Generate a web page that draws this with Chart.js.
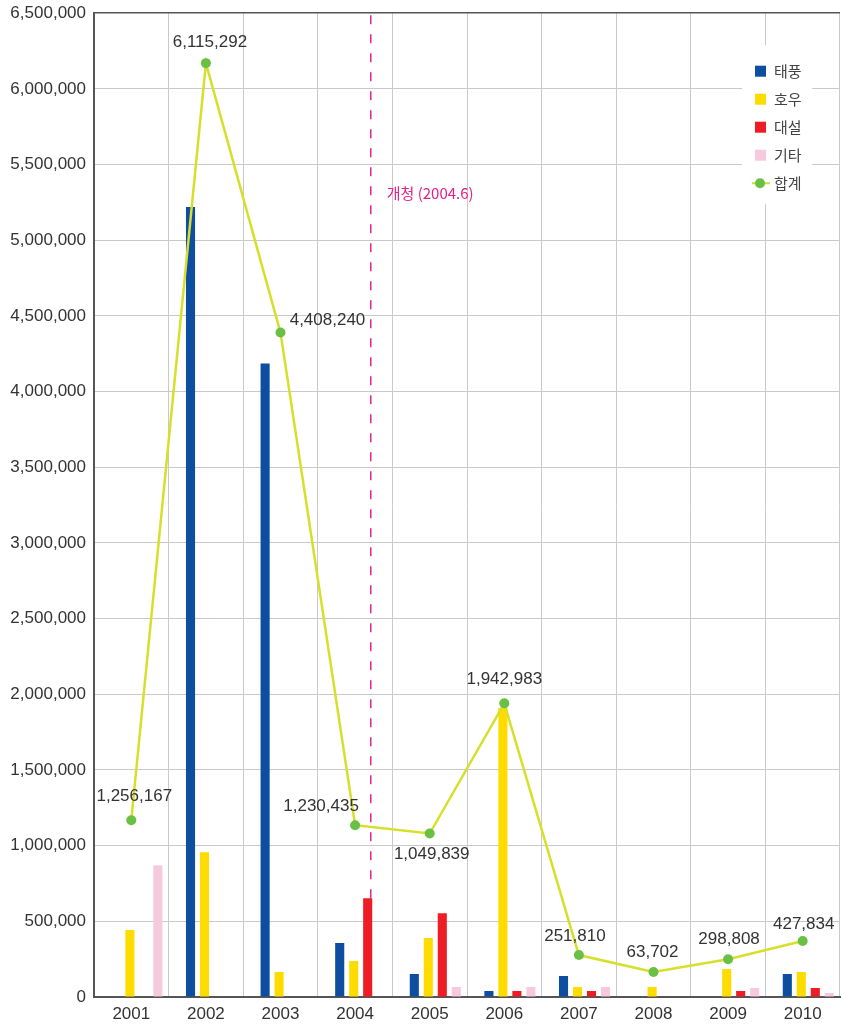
<!DOCTYPE html>
<html lang="ko">
<head>
<meta charset="utf-8">
<script src="https://cdn.jsdelivr.net/npm/chart.js@4/dist/chart.umd.min.js"></script>
<style>
  html, body { margin: 0; padding: 0; background: #fff; overflow: hidden; }
  #wrap { width: 842px; height: 1027px; overflow: hidden; }
  #chart { display: block; margin-top: -5px; }
</style>
</head>
<body>
<div id="wrap"><canvas id="chart" width="845" height="1032"></canvas></div>
<script>
// 데이터
const years = ['2001', '2002', '2003', '2004', '2005', '2006', '2007', '2008', '2009', '2010'];
const typhoon = [0, 5220000, 4185000, 356000, 152000, 40000, 139000, 0, 0, 152000];
const heavyRain = [442000, 957000, 165000, 238000, 390000, 1910000, 66000, 66000, 185000, 165000];
const heavySnow = [0, 0, 0, 653000, 554000, 40000, 40000, 0, 40000, 60000];
const etc = [870000, 0, 0, 0, 66000, 66000, 66000, 0, 60000, 26000];
const totals = [1168000, 6170000, 4390000, 1135000, 1080000, 1940000, 277000, 165000, 250000, 370000];
const totalLabels = ['1,256,167', '6,115,292', '4,408,240', '1,230,435', '1,049,839', '1,942,983', '251,810', '63,702', '298,808', '427,834'];
const yTicks = [0, 6500000, 500000]; // min, max, step

const markerText = '개청 (2004.6)';

// 라벨 위치 (점 기준 오프셋)
const labelOffsets = [[3, -24], [4, -21], [47, -12], [-34, -19], [2, 21], [0, -24], [-4, -19], [-1, -20], [1, -20], [1, -17]];

const FONT = '"Liberation Sans", Arial, sans-serif';
const KFONT = '"Noto Sans CJK KR", "Noto Sans", sans-serif';
const AXIS = '#555555';
const GRID = '#c9c9c9';

const fmt = n => n.toLocaleString('en-US');

const overlayPlugin = {
  id: 'overlay',
  afterDatasetsUpdate(chart) {
    // 막대 묶음을 약간 오른쪽으로
    const x = chart.scales.x;
    const shift = (x.getPixelForValue(1) - x.getPixelForValue(0)) * 0.075;
    for (let i = 0; i < 4; i++) {
      chart.getDatasetMeta(i).data.forEach(el => { el.x += shift; });
    }
  },
  beforeDatasetsDraw(chart) {
    const { ctx, chartArea, scales: { x, y } } = chart;
    const catW = x.getPixelForValue(1) - x.getPixelForValue(0);
    const mx = x.getPixelForValue(3) + catW * 0.21;
    ctx.save();
    ctx.strokeStyle = '#e4248f';
    ctx.lineWidth = 1.5;
    ctx.setLineDash([9, 10]);
    ctx.beginPath();
    ctx.moveTo(mx, chartArea.top + 2);
    ctx.lineTo(mx, chartArea.bottom);
    ctx.stroke();
    ctx.setLineDash([]);
    ctx.fillStyle = '#e6208c';
    ctx.font = '15px ' + KFONT;
    ctx.textBaseline = 'middle';
    ctx.textAlign = 'left';
    ctx.fillText(markerText, mx + 16, y.getPixelForValue(5310000));
    ctx.restore();
  },
  afterDraw(chart) {
    const { ctx, chartArea } = chart;
    ctx.save();
    // 합계 라벨
    const meta = chart.getDatasetMeta(4);
    ctx.fillStyle = '#333';
    ctx.font = '17px ' + FONT;
    ctx.textAlign = 'center';
    ctx.textBaseline = 'middle';
    meta.data.forEach((pt, i) => {
      const [dx, dy] = labelOffsets[i];
      ctx.fillText(totalLabels[i], pt.x + dx, pt.y + dy);
    });

    // 범례
    const bx = chartArea.right - 98, by = chartArea.top + 32;
    ctx.fillStyle = '#fff';
    ctx.fillRect(bx, by, 70, 159);
    ctx.font = '15px ' + KFONT;
    ctx.textAlign = 'left';
    chart.data.datasets.forEach((ds, i) => {
      const cy = by + 26 + i * 28;
      if (ds.type === 'line') {
        ctx.strokeStyle = ds.borderColor;
        ctx.lineWidth = 2;
        ctx.beginPath();
        ctx.moveTo(bx + 10, cy);
        ctx.lineTo(bx + 28, cy);
        ctx.stroke();
        ctx.fillStyle = ds.pointBackgroundColor;
        ctx.beginPath();
        ctx.arc(bx + 18, cy, 5, 0, Math.PI * 2);
        ctx.fill();
      } else {
        ctx.fillStyle = ds.backgroundColor;
        ctx.fillRect(bx + 13, cy - 5.5, 11, 11);
      }
      ctx.fillStyle = '#444';
      ctx.fillText(ds.label, bx + 32, cy);
    });
    ctx.restore();
  }
};

const barDs = (label, data, color) => ({
  type: 'bar', label, data, backgroundColor: color, order: 1,
  categoryPercentage: 0.75, barPercentage: 0.65
});

new Chart(document.getElementById('chart').getContext('2d'), {
  data: {
    labels: years,
    datasets: [
      barDs('태풍', typhoon, '#0d4ea0'),
      barDs('호우', heavyRain, '#ffdc00'),
      barDs('대설', heavySnow, '#ee1c25'),
      barDs('기타', etc, '#f7c9dc'),
      {
        type: 'line', label: '합계', data: totals, order: 0,
        borderColor: '#d6e02a', borderWidth: 2.5, tension: 0,
        pointBackgroundColor: '#6abf45', pointBorderColor: '#6abf45',
        pointRadius: 5, pointBorderWidth: 0
      }
    ]
  },
  options: {
    responsive: false,
    animation: false,
    devicePixelRatio: 1,
    layout: { padding: { top: 7, right: 0, left: 0, bottom: 0 } },
    plugins: { legend: { display: false }, tooltip: { enabled: false } },
    scales: {
      x: {
        offset: true,
        afterFit: s => { s.height = 30; },
        grid: {
          offset: true,
          color: ctx => ctx.index === years.length ? AXIS : GRID,
          lineWidth: ctx => ctx.index === years.length ? 1.5 : 1,
          drawTicks: false
        },
        border: { color: AXIS, width: 2 },
        ticks: { color: '#333', font: { family: FONT, size: 17 }, padding: 7 }
      },
      y: {
        min: yTicks[0], max: yTicks[1],
        afterFit: s => { s.width = 94; },
        grid: {
          color: ctx => ctx.tick && ctx.tick.value === yTicks[1] ? AXIS : GRID,
          lineWidth: ctx => ctx.tick && ctx.tick.value === yTicks[1] ? 1.5 : 1,
          drawTicks: false
        },
        border: { color: AXIS, width: 2 },
        ticks: {
          stepSize: yTicks[2], color: '#333', padding: 8,
          font: { family: FONT, size: 17 },
          callback: v => fmt(v)
        }
      }
    }
  },
  plugins: [overlayPlugin]
});
</script>
</body>
</html>
